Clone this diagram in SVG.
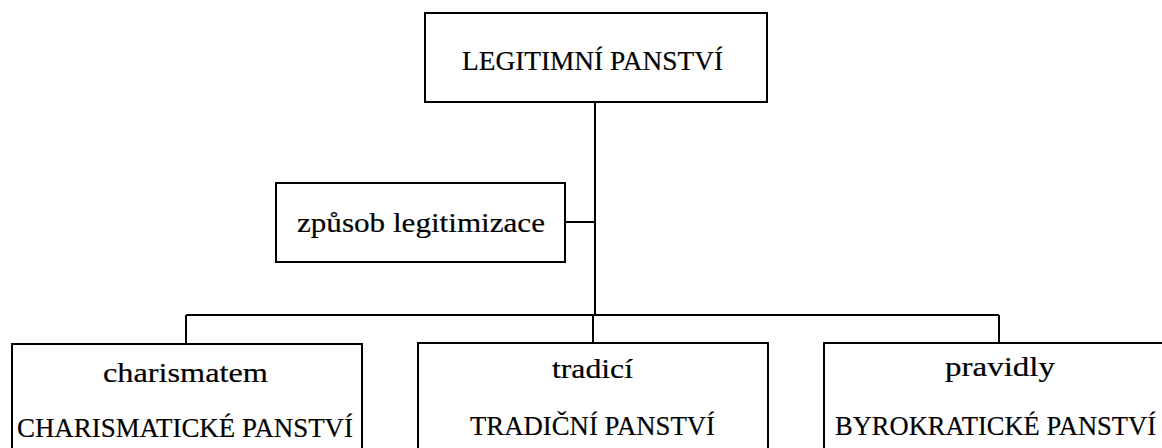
<svg xmlns="http://www.w3.org/2000/svg" width="1162" height="448" viewBox="0 0 1162 448">
<style>
.box{fill:#fff;stroke:#000;stroke-width:2}
.line{fill:none;stroke:#000;stroke-width:2}
text{font-family:"Liberation Serif","DejaVu Serif",serif;font-size:28px;fill:#000;text-anchor:middle;stroke:#000;stroke-width:0.2}
</style>
<rect width="1162" height="448" fill="#fff"/>
<g id="connectors">
<path class="line" d="M595 102 V315"/>
<path class="line" d="M565 222 H595"/>
<path class="line" d="M186 315 H999"/>
<path class="line" d="M186 315 V344"/>
<path class="line" d="M593 315 V343"/>
<path class="line" d="M999 315 V343"/>
</g>
<g id="legitimni">
<rect class="box" x="425" y="13" width="342" height="89"/>
<text x="592.5" y="70" textLength="261" lengthAdjust="spacingAndGlyphs">LEGITIMNÍ PANSTVÍ</text>
</g>
<g id="zpusob">
<rect class="box" x="276" y="183" width="289" height="79"/>
<text x="421" y="232" textLength="248" lengthAdjust="spacingAndGlyphs">způsob legitimizace</text>
</g>
<g id="charisma">
<rect class="box" x="12" y="344" width="350" height="120"/>
<text x="185.5" y="382" textLength="165" lengthAdjust="spacingAndGlyphs">charismatem</text>
<text x="185" y="437" textLength="336" lengthAdjust="spacingAndGlyphs">CHARISMATICKÉ PANSTVÍ</text>
</g>
<g id="tradice">
<rect class="box" x="418" y="343" width="350" height="120"/>
<text x="592.5" y="378" textLength="81" lengthAdjust="spacingAndGlyphs">tradicí</text>
<text x="592.5" y="435" textLength="245" lengthAdjust="spacingAndGlyphs">TRADIČNÍ PANSTVÍ</text>
</g>
<g id="pravidla">
<rect class="box" x="824" y="343" width="360" height="120"/>
<text x="1000" y="376" textLength="110" lengthAdjust="spacingAndGlyphs">pravidly</text>
<text x="995.5" y="435" textLength="321" lengthAdjust="spacingAndGlyphs">BYROKRATICKÉ PANSTVÍ</text>
</g>
</svg>
